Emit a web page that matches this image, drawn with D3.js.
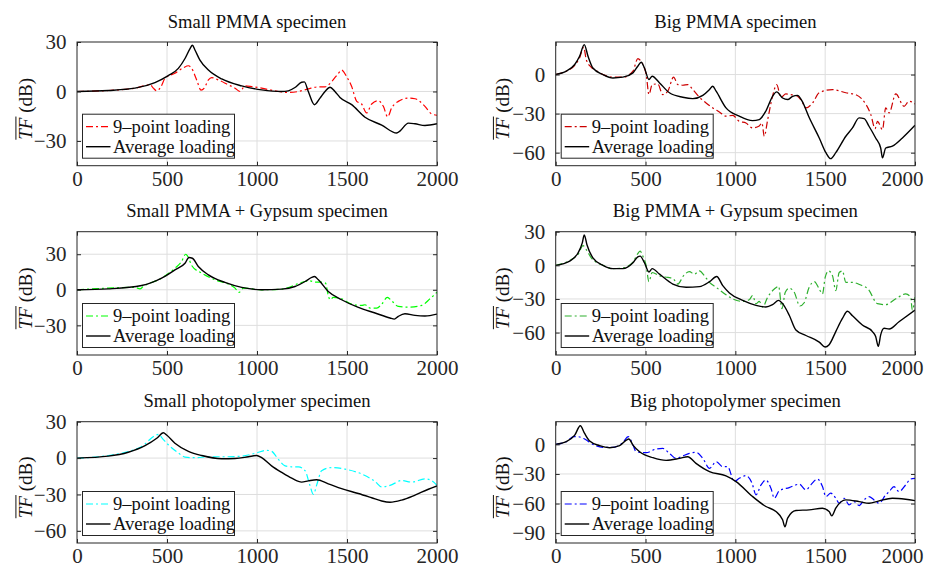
<!DOCTYPE html>
<html><head><meta charset="utf-8">
<script src="https://cdn.jsdelivr.net/npm/d3@7"></script>
<style>body{margin:0;background:#fff}svg{display:block}</style>
</head><body><svg id="c" width="925" height="568"></svg>
<script>
// ---------- data ----------
const xTicks = [0, 500, 1000, 1500, 2000];
const titles = ["Small PMMA specimen", "Big PMMA specimen", "Small PMMA + Gypsum specimen",
  "Big PMMA + Gypsum specimen", "Small photopolymer specimen", "Big photopolymer specimen"];
const legendLabels = ["9\u2013point loading", "Average loading"];
const yTicksList = [[-30, 0, 30], [-60, -30, 0], [-30, 0, 30], [-60, -30, 0, 30], [-60, -30, 0, 30], [-90, -60, -30, 0]];
const yDomains = [[-45, 30], [-70, 25], [-55, 49], [-80, 30], [-70, 30], [-100, 23]];
const nineColors = ["#ff0000", "#cc0000", "#00ff00", "#2eb02e", "#00ffff", "#0000ff"];

// [frequency (Hz), TF (dB)]
const smallPmmaNine = [[0,0],[174,0.6],[322,2],[407,4],[424,2],[443,0.4],[467,3],[489,8],[544,11],[591,14.4],[619,15.6],[637,14],[665,7],[689,0.8],[707,2],[730,7],[748,8.4],[785,7],[841,4],[878,2],[906,0],[933,3.4],[970,3],[1026,2],[1100,0.4],[1174,-0.6],[1230,0],[1285,1.6],[1341,2.8],[1378,2.8],[1415,6],[1452,11],[1470,13],[1498,9],[1526,3],[1554,-6],[1581,-7.6],[1609,-13],[1637,-7.6],[1674,-5.6],[1702,-9],[1726,-15.4],[1748,-10],[1785,-6],[1841,-4],[1878,-4.4],[1933,-9],[1970,-13.6],[2000,-14.4]];
const smallPmmaAvg = [[0,0],[174,0.6],[322,2],[433,5.4],[507,9.6],[563,14],[600,20],[628,26],[641,28],[656,25],[683,19],[730,13],[804,7.6],[915,3.4],[1026,1],[1137,0],[1174,0.4],[1211,2.4],[1248,5.6],[1263,5.8],[1285,0],[1319,-8],[1350,-4],[1378,0],[1406,2.6],[1433,0],[1461,-3.6],[1526,-8],[1600,-15.6],[1693,-20.4],[1776,-25.2],[1794,-24],[1841,-19.2],[1878,-19.6],[1933,-20.6],[2000,-19.6]];

const bigPmmaNine = [[0,0],[59,2.6],[106,7],[133,12.8],[156,21],[170,11.5],[198,5.6],[217,3.8],[263,0],[319,-2],[374,-2],[430,2.6],[457,12.3],[476,10],[494,5],[504,0],[519,-15.4],[537,-7.7],[568,-7.2],[596,-15.4],[624,-12.8],[656,-2],[680,-7.7],[707,-8.2],[735,-7.7],[763,-11.5],[800,-17.4],[837,-21.8],[874,-25.6],[911,-28.7],[948,-32],[985,-31.3],[1022,-35.9],[1059,-37.2],[1096,-41],[1133,-39.5],[1148,-37.2],[1161,-47.4],[1180,-34.6],[1207,-16.7],[1230,-7.7],[1254,-17.4],[1281,-14.9],[1309,-15.4],[1346,-16.7],[1370,-20.5],[1393,-25.6],[1430,-21.8],[1467,-14],[1541,-11.5],[1615,-14],[1670,-15.4],[1707,-19.2],[1754,-30.8],[1778,-41.5],[1791,-35.9],[1819,-42.3],[1837,-25.6],[1856,-29.5],[1893,-14.9],[1939,-24.4],[1967,-20.5],[2000,-22.6]];
const bigPmmaAvg = [[0,0],[59,2.6],[106,7.7],[133,14],[159,23],[180,14],[207,5],[263,0],[319,-2.6],[374,-2],[430,1.3],[457,6.4],[476,9.5],[494,5],[519,-3.8],[537,-1.3],[578,-6.4],[633,-14],[707,-17.4],[763,-18.5],[819,-16],[856,-11.5],[874,-9],[893,-12.8],[948,-25.6],[1022,-32],[1096,-35.4],[1133,-34.6],[1170,-28],[1207,-16.7],[1230,-13.3],[1263,-18],[1291,-19.2],[1319,-16.7],[1346,-16],[1370,-20],[1411,-33],[1467,-48.7],[1504,-60],[1531,-64.6],[1559,-60],[1615,-47.4],[1652,-41],[1689,-33.3],[1717,-33.8],[1744,-39.7],[1781,-48.7],[1809,-56.4],[1819,-64],[1837,-56.4],[1874,-55],[1930,-48.7],[2000,-39]];

const smallGypNine = [[0,0],[322,2],[350,0.8],[368,2.8],[470,9.8],[544,18.2],[581,23.8],[604,30],[619,27.2],[637,20.5],[693,14],[767,8.4],[841,4.8],[878,1.4],[900,-2.2],[924,1.4],[1026,0],[1137,0.6],[1267,7],[1294,7.6],[1322,6.4],[1359,6.4],[1381,5.6],[1393,-2.8],[1406,-8.4],[1424,-6.4],[1470,-7.6],[1526,-12.1],[1581,-13.2],[1600,-12.6],[1628,-15.4],[1665,-15.4],[1693,-12.1],[1724,-6.4],[1748,-9.3],[1785,-14],[1841,-14.6],[1915,-13.2],[1961,-7.6],[2000,-2]];
const smallGypAvg = [[0,0],[174,0.8],[359,3.6],[470,9.8],[544,16.8],[600,22.4],[622,27.2],[641,26.6],[674,19.6],[730,12.6],[822,6.2],[915,2],[1026,0],[1137,0.6],[1211,2.8],[1267,7],[1304,10.4],[1319,11.2],[1341,8.4],[1396,-1.4],[1470,-8.4],[1563,-14.9],[1656,-19.6],[1739,-23.8],[1763,-24.7],[1785,-22.4],[1822,-20.2],[1878,-21.6],[1933,-22.1],[2000,-20.5]];

const bigGypNine = [[0,0],[124,9.7],[152,17.6],[170,14],[198,6.7],[263,0],[319,-2.9],[374,-2.3],[430,2.9],[457,10.5],[470,12.6],[485,8.2],[504,-0.6],[519,-14.6],[537,-6.4],[578,-9.4],[624,-10.8],[652,-11.7],[680,-16.7],[711,-9.4],[744,-5.6],[772,-7.9],[800,-5],[828,-9.4],[856,-15.2],[893,-19.6],[948,-26.3],[985,-29.9],[1041,-32.2],[1078,-30.7],[1096,-26.9],[1115,-34.2],[1133,-32.2],[1152,-37.2],[1180,-28.4],[1217,-21.1],[1241,-18.7],[1259,-38.6],[1278,-24],[1300,-20.5],[1328,-24],[1359,-36.3],[1383,-33.4],[1411,-19.6],[1439,-14.6],[1467,-21.1],[1485,-25.5],[1500,-10.8],[1519,-5],[1541,-9.4],[1559,-22.5],[1578,-6.4],[1596,-5],[1615,-15.2],[1652,-15.2],[1698,-17.6],[1739,-21.1],[1791,-34.2],[1837,-35.1],[1893,-29.9],[1948,-25.5],[1976,-28.4],[1985,-40],[2000,-28.4]];
const bigGypAvg = [[0,0],[78,3.8],[124,11],[148,20],[159,27.2],[174,18.4],[207,6.7],[263,0],[319,-2.9],[374,-2.9],[430,2.3],[457,7.6],[470,8.2],[494,2.3],[519,-5.9],[537,-2.9],[578,-7.9],[652,-16.7],[726,-19.6],[800,-19],[856,-14.6],[896,-10],[930,-18.1],[967,-24.6],[1041,-31.3],[1115,-35.7],[1170,-37.2],[1207,-35.1],[1241,-31.3],[1263,-34.2],[1300,-44.5],[1337,-57.7],[1393,-62.6],[1467,-68.5],[1500,-72.9],[1522,-70.8],[1559,-59.1],[1596,-47.4],[1624,-41],[1652,-45],[1707,-53.3],[1763,-59.1],[1781,-63.5],[1796,-72.3],[1809,-62],[1828,-56.2],[1856,-56.8],[1911,-50.3],[2000,-40]];

const smallPhotoNine = [[0,0],[174,2.1],[359,9.6],[433,18.5],[452,19.6],[474,16.3],[507,11],[563,4.3],[600,0.8],[656,0.3],[730,1.1],[822,1.1],[915,1.6],[998,4.3],[1054,6.4],[1081,5.6],[1119,-1.1],[1156,-6.4],[1193,-7.2],[1230,-7.2],[1267,-10.4],[1294,-22.5],[1313,-30],[1331,-22.5],[1359,-10.4],[1415,-7.8],[1489,-9.1],[1581,-13.1],[1656,-19.3],[1693,-23.8],[1739,-22.5],[1804,-18.5],[1859,-19.8],[1933,-17.1],[1970,-18.5],[2000,-22.5]];
const smallPhotoAvg = [[0,0],[174,1.6],[285,4.8],[378,10.2],[443,16.3],[480,20.9],[498,19],[544,12.3],[619,5.6],[693,2.1],[804,-0.5],[878,-0.3],[952,1.1],[998,2.1],[1026,0.3],[1081,-6.4],[1137,-11.8],[1193,-16.6],[1248,-19.8],[1285,-18.8],[1331,-17.9],[1396,-21.2],[1470,-25.2],[1563,-29.2],[1637,-32.7],[1693,-35.4],[1739,-36.4],[1804,-34.6],[1878,-30.5],[1952,-25.7],[2000,-23]];

const bigPhotoNine = [[0,0],[59,2.7],[100,7.8],[124,7.8],[161,5.4],[207,0],[263,-3],[319,-3],[374,2],[404,7.8],[430,-0.7],[448,-7.4],[504,-8.4],[559,-4.7],[596,-4],[633,-9.1],[670,-14.2],[698,-12.5],[744,-9.1],[781,-8.1],[819,-14.2],[856,-24.3],[893,-17.5],[930,-22.6],[957,-22.6],[994,-37.7],[1022,-34.4],[1059,-31.7],[1093,-39.4],[1115,-51.2],[1143,-41.1],[1170,-36.1],[1198,-44.5],[1217,-54.6],[1244,-47.2],[1300,-43.8],[1356,-40.4],[1393,-46.2],[1420,-41.1],[1457,-35.1],[1485,-42.8],[1504,-52.9],[1531,-49.5],[1559,-54.6],[1578,-59.7],[1606,-54.6],[1633,-61.3],[1661,-58],[1689,-62],[1717,-56.3],[1744,-52.9],[1772,-56.3],[1800,-59.7],[1837,-51.2],[1856,-47.9],[1883,-42.8],[1911,-47.9],[1948,-41.1],[1976,-35.1],[2000,-34.4]];
const bigPhotoAvg = [[0,0],[59,2.7],[106,9.4],[137,18.9],[161,11.1],[189,3.4],[244,-1.3],[300,-3.4],[356,-1.3],[393,4.4],[407,5.4],[430,-0.7],[467,-7.4],[541,-13.5],[615,-16.2],[689,-14.2],[735,-12.5],[781,-19.2],[856,-27.6],[948,-32],[1004,-37.7],[1096,-52.9],[1170,-63],[1226,-68.1],[1263,-76.5],[1276,-83.6],[1291,-74.8],[1337,-67.1],[1411,-66.4],[1485,-64.7],[1522,-68.1],[1537,-72.5],[1559,-64.7],[1615,-56.3],[1689,-58],[1744,-59.7],[1800,-57.3],[1874,-54.6],[1948,-55.6],[2000,-57]];

const nineSeries = [smallPmmaNine, bigPmmaNine, smallGypNine, bigGypNine, smallPhotoNine, bigPhotoNine];
const avgSeries = [smallPmmaAvg, bigPmmaAvg, smallGypAvg, bigGypAvg, smallPhotoAvg, bigPhotoAvg];

// ---------- layout ----------
const FONT = '"Liberation Serif","Times New Roman",Times,serif';
const W = 925;
const cols = [[77, 437], [555.7, 915]];
const rows = [[42, 165.7], [231.7, 355], [421.7, 543]];
const TICKFS = 21, LABFS = 19, TXTFS = 18.6;

const svg = d3.select("#c");
svg.append("rect").attr("width", W).attr("height", 568).attr("fill", "#fff");
const defs = svg.append("defs");

titles.forEach((title, i) => {
  const col = i % 2, row = Math.floor(i / 2);
  const [x0, x1] = cols[col], [y0, y1] = rows[row];
  const x = d3.scaleLinear().domain([0, 2000]).range([x0, x1]);
  const y = d3.scaleLinear().domain(yDomains[i]).range([y1, y0]);
  const g = svg.append("g");
  const yt = yTicksList[i];

  // grid
  g.append("g").selectAll("line").data(xTicks.filter(t => t > 0 && t < 2000)).join("line")
    .attr("x1", d => x(d)).attr("x2", d => x(d)).attr("y1", y0).attr("y2", y1)
    .attr("stroke", "#dedede").attr("stroke-width", 1);
  g.append("g").selectAll("line").data(yt.filter(t => y(t) > y0 + 1 && y(t) < y1 - 1)).join("line")
    .attr("x1", x0).attr("x2", x1).attr("y1", d => y(d)).attr("y2", d => y(d))
    .attr("stroke", "#dedede").attr("stroke-width", 1);

  // clip
  const cid = "clip" + i;
  defs.append("clipPath").attr("id", cid).append("rect")
    .attr("x", x0).attr("y", y0).attr("width", x1 - x0).attr("height", y1 - y0);

  const line = d3.line().x(d => x(d[0])).y(d => y(d[1])).curve(d3.curveMonotoneX);
  const lg = g.append("g").attr("clip-path", `url(#${cid})`);
  lg.append("path").datum(nineSeries[i]).attr("d", line).attr("fill", "none")
    .attr("stroke", nineColors[i]).attr("stroke-width", 1.2).attr("stroke-dasharray", "7,3,2,3")
    .attr("stroke-linejoin", "round");
  lg.append("path").datum(avgSeries[i]).attr("d", line).attr("fill", "none")
    .attr("stroke", "#000").attr("stroke-width", 1.4).attr("stroke-linejoin", "round");

  // axes
  const styleAxis = sel => {
    sel.select(".domain").remove();
    sel.selectAll(".tick line").attr("stroke", "#262626");
    sel.selectAll("text").attr("font-family", FONT).attr("font-size", TICKFS).attr("fill", "#262626");
  };
  const xb = g.append("g").attr("transform", `translate(0,${y1})`)
    .call(d3.axisBottom(x).tickValues(xTicks).tickSizeInner(-4).tickSizeOuter(0).tickPadding(5.5).tickFormat(d3.format("d")))
    .call(styleAxis);
  // keep tick labels inside the picture
  xb.selectAll(".tick").each(function (d) {
    const txt = d3.select(this).select("text");
    const w = txt.node().getComputedTextLength();
    const over = x(d) + w / 2 - (W - 2);
    if (over > 0) txt.attr("x", -over);
  });
  g.append("g").attr("transform", `translate(0,${y0})`)
    .call(d3.axisTop(x).tickValues(xTicks).tickSizeInner(-4).tickSizeOuter(0).tickFormat(""))
    .call(styleAxis);
  g.append("g").attr("transform", `translate(${x0},0)`)
    .call(d3.axisLeft(y).tickValues(yt).tickSizeInner(-4).tickSizeOuter(0).tickPadding(10.5).tickFormat(d3.format("d")))
    .call(styleAxis);
  g.append("g").attr("transform", `translate(${x1},0)`)
    .call(d3.axisRight(y).tickValues(yt).tickSizeInner(-4).tickSizeOuter(0).tickFormat(""))
    .call(styleAxis);

  // box
  g.append("rect").attr("x", x0).attr("y", y0).attr("width", x1 - x0).attr("height", y1 - y0)
    .attr("fill", "none").attr("stroke", "#262626").attr("stroke-width", 1);

  // title
  g.append("text").attr("x", (x0 + x1) / 2).attr("y", y0 - 14.5).attr("text-anchor", "middle")
    .attr("font-family", FONT).attr("font-size", TXTFS).attr("fill", "#111").text(title);

  // y label
  const xl = col === 0 ? 31.5 : 509;
  const yl = g.append("g").attr("transform", `translate(${xl},${(y0 + y1) / 2 + 5}) rotate(-90)`);
  const t = yl.append("text").attr("text-anchor", "middle").attr("font-family", FONT)
    .attr("font-size", LABFS).attr("fill", "#111");
  t.append("tspan").attr("font-style", "italic").text("TF");
  t.append("tspan").text(" (dB)");
  const total = t.node().getComputedTextLength();
  const tfw = t.node().getSubStringLength(0, 2);
  yl.append("line").attr("x1", -total / 2).attr("x2", -total / 2 + tfw + 1)
    .attr("y1", -LABFS * 0.82).attr("y2", -LABFS * 0.82).attr("stroke", "#111").attr("stroke-width", 1);

  // legend
  const lx = x0 + 5.5, lw = 152, lh = 44, ly = y1 - 7.5 - lh;
  const leg = g.append("g");
  leg.append("rect").attr("x", lx).attr("y", ly).attr("width", lw).attr("height", lh)
    .attr("fill", "#fff").attr("stroke", "#262626").attr("stroke-width", 1);
  const legColors = [nineColors[i], "#000"];
  legendLabels.forEach((lab, k) => {
    const yy = ly + 12.5 + k * 20;
    leg.append("line").attr("x1", lx + 3.5).attr("x2", lx + 28).attr("y1", yy).attr("y2", yy)
      .attr("stroke", legColors[k]).attr("stroke-width", k === 0 ? 1.2 : 1.4)
      .attr("stroke-dasharray", k === 0 ? "7,3,2,3" : null);
    leg.append("text").attr("x", lx + 30.5).attr("y", yy).attr("dy", "0.33em")
      .attr("font-family", FONT).attr("font-size", TXTFS).attr("fill", "#111").text(lab);
  });
});
</script></body></html>
